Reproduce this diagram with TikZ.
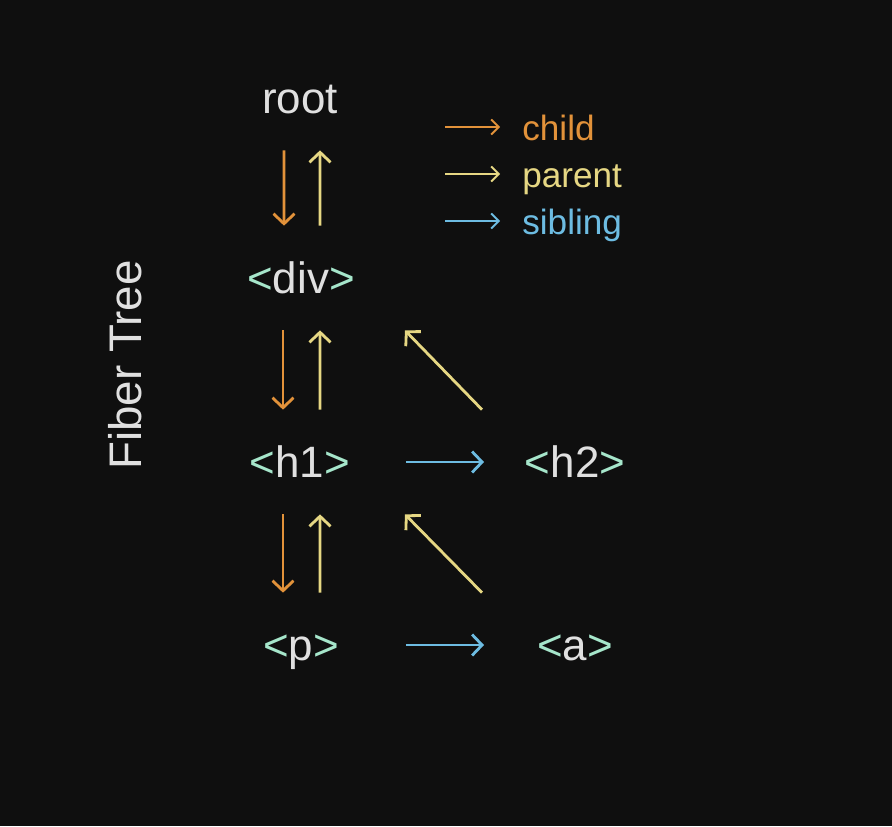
\documentclass[tikz,border=0pt]{standalone}
\usepackage{fontspec}
\setmainfont{Liberation Sans}
\usetikzlibrary{arrows.meta}
\definecolor{bgdark}{HTML}{0F0F0F}
\definecolor{childcol}{HTML}{E2923A}
\definecolor{parentcol}{HTML}{E6D783}
\definecolor{siblingcol}{HTML}{6DBCE2}
\definecolor{mintcol}{HTML}{A6E6CB}
\colorlet{labelcol}{white!88!black}
\newcommand{\htmltag}[1]{\textcolor{mintcol}{<}#1\textcolor{mintcol}{>}}

\begin{document}
\begin{tikzpicture}[x=0.02cm,y=-0.02cm]
\tikzset{fiber/.style ={font=\fontsize{25}{30}\selectfont, text=labelcol, inner xsep=0, inner ysep=0.74cm, text height=0.6cm, text depth=0cm},
  legendtext/.style ={font=\fontsize{20}{24}\selectfont, anchor=west, inner sep=0, text height=0.56cm, text depth=0.04cm},
  link/.style ={line width=1.6pt, -{Straight Barb[length=0.2cm,width=0.42cm]}},
  legendlink/.style ={line width=1.1pt, -{Straight Barb[length=0.15cm,width=0.3cm]}}}
\fill[bgdark] (0,0) rectangle (892,826);
\useasboundingbox (0,0) rectangle (892,826);
\node[rotate=90, text=labelcol, font=\fontsize{26}{30}\selectfont] (title) at (125,365) {Fiber Tree};
% tree
\node[fiber] (root) at (300,98) {root};
\node[fiber] (div) at (301,278) {\htmltag{div}};
\node[fiber] (h1) at (300,462) {\htmltag{h1}};
\node[fiber] (h2) at (575,462) {\htmltag{h2}};
\node[fiber] (p) at (301,645) {\htmltag{p}};
\node[fiber] (a) at (575,645) {\htmltag{a}};
% legend
\node[legendtext, text=childcol] (lchild) at (522,127) {child};
\node[legendtext, text=parentcol] (lparent) at (522,174) {parent};
\node[legendtext, text=siblingcol] (lsibling) at (522,221) {sibling};
\draw[legendlink, childcol] ([xshift=-1.54cm]lchild.west) -- ([xshift=-0.44cm]lchild.west);
\draw[legendlink, parentcol] ([xshift=-1.54cm]lparent.west) -- ([xshift=-0.44cm]lparent.west);
\draw[legendlink, siblingcol] ([xshift=-1.54cm]lsibling.west) -- ([xshift=-0.44cm]lsibling.west);
% child / parent
\draw[link, childcol] ([xshift=-0.32cm]root.south) -- ([xshift=-0.34cm]div.north);
\draw[link, parentcol] ([xshift=0.38cm]div.north) -- ([xshift=0.4cm]root.south);
\draw[link, childcol] ([xshift=-0.36cm]div.south) -- ([xshift=-0.34cm]h1.north);
\draw[link, parentcol] ([xshift=0.4cm]h1.north) -- ([xshift=0.38cm]div.south);
\draw[link, childcol] ([xshift=-0.34cm]h1.south) -- ([xshift=-0.36cm]p.north);
\draw[link, parentcol] ([xshift=0.38cm]p.north) -- ([xshift=0.4cm]h1.south);
\draw[link, parentcol] ([xshift=-1.86cm]h2.north) -- ([xshift=2.08cm]div.south);
\draw[link, parentcol] ([xshift=-1.86cm]a.north) -- ([xshift=2.1cm]h1.south);
% sibling
\draw[link, siblingcol] ([xshift=2.12cm]h1.center) -- ([xshift=-1.82cm]h2.center);
\draw[link, siblingcol] ([xshift=2.1cm]p.center) -- ([xshift=-1.82cm]a.center);
\end{tikzpicture}
\end{document}
